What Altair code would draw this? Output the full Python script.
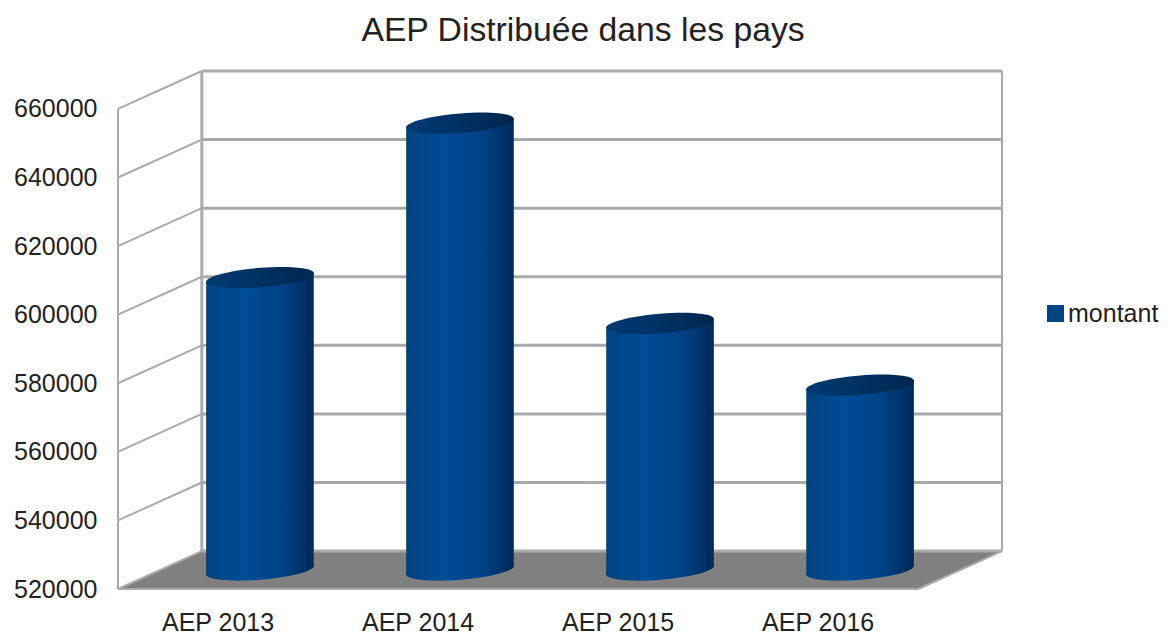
import altair as alt
import pandas as pd

categories = ["AEP 2013", "AEP 2014", "AEP 2015", "AEP 2016"]
values = [605300, 650300, 591900, 573900]
y_ticks = [520000, 540000, 560000, 580000, 600000, 620000, 640000, 660000]
series_name = "montant"

FLOOR = 520000
TOP = 660000
DEPTH_X = 0.419      # depth of the pseudo-3D box in category units
DEPTH_Y = 11060      # depth of the pseudo-3D box in value units
X_MAX = 4 + DEPTH_X
Y_MAX = TOP + DEPTH_Y
HALF_W = 0.269
SHEAR = 1250         # rise of a cylinder's rim across its half width, in value units

x_scale = alt.Scale(domain=[0, X_MAX], nice=False, zero=False)
y_scale = alt.Scale(domain=[FLOOR, Y_MAX], nice=False, zero=False)
y_axis = alt.Axis(
    values=y_ticks, title=None, format="d", domain=False, ticks=False, grid=False,
    labelFont="Liberation Sans", labelFontSize=25, labelColor="#222222", labelPadding=21,
    labelOverlap=False,
)
X = lambda f="x": alt.X(f"{f}:Q", scale=x_scale, axis=None)
Y = lambda f="y": alt.Y(f"{f}:Q", scale=y_scale, axis=y_axis)

# floor
floor_df = pd.DataFrame({
    "x": [0, DEPTH_X, 4, X_MAX],
    "y": [FLOOR, FLOOR, FLOOR, FLOOR + DEPTH_Y],
    "y2": [FLOOR, FLOOR + DEPTH_Y, FLOOR + DEPTH_Y, FLOOR + DEPTH_Y],
})
floor = alt.Chart(floor_df).mark_area(color="#808080").encode(x=X(), y=Y(), y2="y2:Q")

# grid lines, back wall and side wall
grid_rows = []
for t in y_ticks:
    grid_rows.append({"x": DEPTH_X, "x2": X_MAX, "y": t + DEPTH_Y, "y2": t + DEPTH_Y, "w": 3})
    grid_rows.append({"x": 0, "x2": DEPTH_X, "y": t, "y2": t + DEPTH_Y, "w": 2})
grid_rows.append({"x": 0, "x2": 0, "y": FLOOR, "y2": TOP, "w": 2})
grid_rows.append({"x": DEPTH_X, "x2": DEPTH_X, "y": FLOOR + DEPTH_Y, "y2": Y_MAX, "w": 3})
grid_rows.append({"x": X_MAX, "x2": X_MAX, "y": FLOOR + DEPTH_Y, "y2": Y_MAX, "w": 2})
grid_rows.append({"x": 0, "x2": 4, "y": FLOOR, "y2": FLOOR, "w": 2})
grid_rows.append({"x": 4, "x2": X_MAX, "y": FLOOR, "y2": FLOOR + DEPTH_Y, "w": 2})
grid = alt.Chart(pd.DataFrame(grid_rows)).mark_rule(color="#aaaaaa").encode(
    x=X(), x2="x2:Q", y=Y(), y2="y2:Q",
    strokeWidth=alt.StrokeWidth("w:Q", scale=None),
)

# cylinders
centers = [i + 0.5 + DEPTH_X / 2 for i in range(len(categories))]
body_rows = []
for c, v, name in zip(centers, values, categories):
    base = FLOOR + DEPTH_Y / 2
    top = v + DEPTH_Y / 2
    body_rows.append({"name": name, "x": c - HALF_W, "y": top - SHEAR, "y2": base - SHEAR})
    body_rows.append({"name": name, "x": c + HALF_W, "y": top + SHEAR, "y2": base + SHEAR})

body_gradient = alt.Gradient(
    gradient="linear", x1=0, x2=1, y1=0, y2=0,
    stops=[
        alt.GradientStop(offset=0, color="#00437f"),
        alt.GradientStop(offset=0.35, color="#004c98"),
        alt.GradientStop(offset=0.72, color="#004184"),
        alt.GradientStop(offset=1, color="#002a55"),
    ],
)
top_gradient = alt.Gradient(
    gradient="linear", x1=0, x2=1, y1=0, y2=0,
    stops=[
        alt.GradientStop(offset=0, color="#003a72"),
        alt.GradientStop(offset=0.5, color="#003163"),
        alt.GradientStop(offset=1, color="#00264d"),
    ],
)

# sheared ellipse, half width 1 unit
RIM = ("M1,-0.08 C1,0.019 0.552,0.136 0,0.18 C-0.552,0.224 -1,0.179 -1,0.08 "
       "C-1,-0.019 -0.552,-0.136 0,-0.18 C0.552,-0.224 1,-0.179 1,-0.08 Z")
RIM_SIZE = 108 ** 2

ends_df = pd.DataFrame({"name": categories, "x": centers,
                        "top": [v + DEPTH_Y / 2 for v in values],
                        "base": [FLOOR + DEPTH_Y / 2] * len(values)})

bottoms = alt.Chart(ends_df).mark_point(shape=RIM, filled=True, size=RIM_SIZE, fill=body_gradient, opacity=1).encode(
    x=X(), y=Y("base"))
bodies = alt.Chart(pd.DataFrame(body_rows)).mark_area(color=body_gradient, opacity=1).encode(
    x=X(), y=Y(), y2="y2:Q", detail="name:N")
tops = alt.Chart(ends_df).mark_point(shape=RIM, filled=True, size=RIM_SIZE, fill=top_gradient, opacity=1).encode(
    x=X(), y=Y("top"))

# category labels
labels_df = pd.DataFrame({"name": categories, "x": [i + 0.5 for i in range(4)], "y": [FLOOR] * 4})
labels = alt.Chart(labels_df).mark_text(
    font="Liberation Sans", fontSize=25, color="#222222", dy=34, baseline="middle", clip=False,
).encode(x=X(), y=Y(), text="name:N")

# legend
legend_layer = alt.Chart(pd.DataFrame({"s": [series_name], "x": [0], "y": [FLOOR]})).mark_square(size=0).encode(
    x=X(), y=Y(),
    color=alt.Color("s:N", scale=alt.Scale(domain=[series_name], range=["#004586"]), legend=alt.Legend(
        orient="none", legendX=925, legendY=230, title=None, symbolType="square", symbolSize=290,
        symbolOpacity=1, labelFont="Liberation Sans", labelFontSize=25, labelColor="#222222", labelOffset=0,
    )),
)

chart = alt.layer(floor, grid, bottoms, bodies, tops, labels, legend_layer).properties(
    width=884, height=518,
    padding={"left": 110, "top": 63, "right": 158, "bottom": 49},
    autosize=alt.AutoSizeParams(type="none"),
    title=alt.TitleParams(
        "AEP Distribuée dans les pays", font="Liberation Sans", fontSize=33.7, fontWeight="normal",
        color="#222222", anchor="middle", dx=23, offset=22,
    ),
).configure_view(stroke=None)

chart.save("out.html", embed_options={"renderer": "svg", "actions": False})
